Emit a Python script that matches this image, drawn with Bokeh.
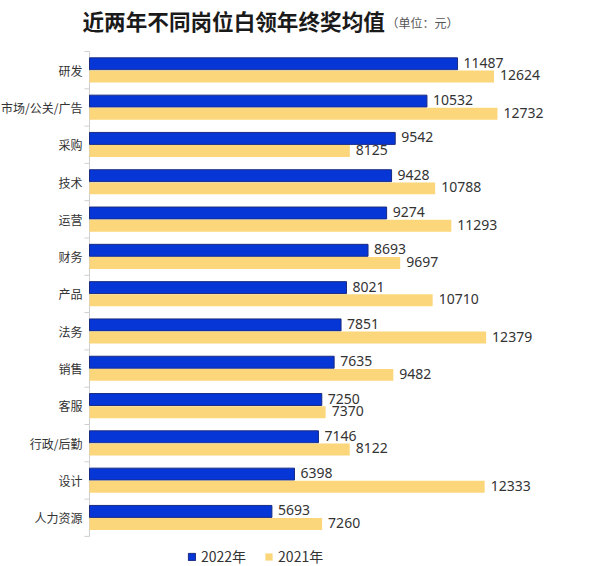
from bokeh.plotting import figure
from bokeh.models import (ColumnDataSource, LabelSet, Label, Range1d,
                          Legend, LegendItem)
from bokeh.embed import file_html
from bokeh.resources import INLINE
from bokeh.core.properties import value

categories = ["研发", "市场/公关/广告", "采购", "技术", "运营", "财务", "产品",
              "法务", "销售", "客服", "行政/后勤", "设计", "人力资源"]
values_2022 = [11487, 10532, 9542, 9428, 9274, 8693, 8021, 7851, 7635, 7250, 7146, 6398, 5693]
values_2021 = [12624, 12732, 8125, 10788, 11293, 9697, 10710, 12379, 9482, 7370, 8122, 12333, 7260]
series_names = ["2022年", "2021年"]
title_text = "近两年不同岗位白领年终奖均值"
unit_text = "（单位：元）"

BLUE = "#0636D6"
YELLOW = "#FBD67A"
FONT = "Noto Sans CJK SC"

W, H = 600, 566
AXIS_PX = 89           # canvas x of the value axis
PX_PER_UNIT = 0.03204  # horizontal scale
TOP_PX, BAND_PX = 51, 37.3

n = len(categories)
pos = [n - 1 - i for i in range(n)]
src = ColumnDataSource(dict(
    cat=categories, pos=pos,
    y22=[q + 0.17 for q in pos], y21=[q - 0.17 for q in pos],
    v22=values_2022, v21=values_2021,
    t22=[str(v) for v in values_2022], t21=[str(v) for v in values_2021],
))

x0 = -AXIS_PX / PX_PER_UNIT
x1 = (W - AXIS_PX) / PX_PER_UNIT
y_top = (n - 0.5) + TOP_PX / BAND_PX
y_bot = -0.5 - (H - TOP_PX - n * BAND_PX) / BAND_PX

p = figure(width=W, height=H, output_backend="svg", toolbar_location=None,
           x_range=Range1d(x0, x1), y_range=Range1d(y_bot, y_top),
           x_axis_location=None, y_axis_location=None,
           min_border=0)
p.outline_line_color = None
p.xgrid.visible = False
p.ygrid.visible = False

# value axis line and category boundary ticks
bounds = [k + 0.5 for k in range(-1, n)]
tick_len = 5 / PX_PER_UNIT
tick_src = ColumnDataSource(dict(y=bounds, x0=[-tick_len] * len(bounds), x1=[0] * len(bounds)))
p.segment(x0=0, y0=-0.5, x1=0, y1=n - 0.5, line_color="#cfcfcf", line_width=1)
p.segment(x0="x0", y0="y", x1="x1", y1="y", source=tick_src, line_color="#cfcfcf", line_width=1)

r22 = p.hbar(y="y22", left=0, right="v22", height=0.32, source=src,
             fill_color=BLUE, line_color="#1a2b80", line_width=1)
r21 = p.hbar(y="y21", left=0, right="v21", height=0.32, source=src,
             fill_color=YELLOW, line_color=None)

p.add_layout(LabelSet(x=0, y="pos", text="cat", source=src, x_offset=-7,
                      text_align="right", text_baseline="middle",
                      text_font=value(FONT), text_font_size="12px", text_color="#333333"))
p.add_layout(LabelSet(x="v22", y="y22", text="t22", source=src, x_offset=6, y_offset=1,
                      text_align="left", text_baseline="middle",
                      text_font=value("Noto Sans"), text_font_size="14px", text_color="#333333"))
p.add_layout(LabelSet(x="v21", y="y21", text="t21", source=src, x_offset=6, y_offset=1,
                      text_align="left", text_baseline="middle",
                      text_font=value("Noto Sans"), text_font_size="14px", text_color="#333333"))

p.add_layout(Label(x=0, y=n - 0.5, x_offset=-7, y_offset=31, text=title_text,
                   text_baseline="middle", text_align="left",
                   text_font=FONT, text_font_style="bold",
                   text_font_size="21.6px", text_color="#1a1a1a"))
p.add_layout(Label(x=0, y=n - 0.5, x_offset=297, y_offset=29, text=unit_text,
                   text_baseline="middle", text_align="left",
                   text_font=FONT, text_font_size="12px", text_color="#555555"))

legend = Legend(items=[LegendItem(label=series_names[0], renderers=[r22]),
                       LegendItem(label=series_names[1], renderers=[r21])],
                orientation="horizontal", location=(187, 0),
                glyph_width=9, glyph_height=9, label_text_font=FONT,
                label_text_font_size="14px", label_text_color="#333333",
                border_line_color=None, background_fill_alpha=0,
                padding=2, margin=0, spacing=18, label_standoff=5)
p.add_layout(legend, "center")

open("out.html", "w").write(file_html(p, INLINE))
